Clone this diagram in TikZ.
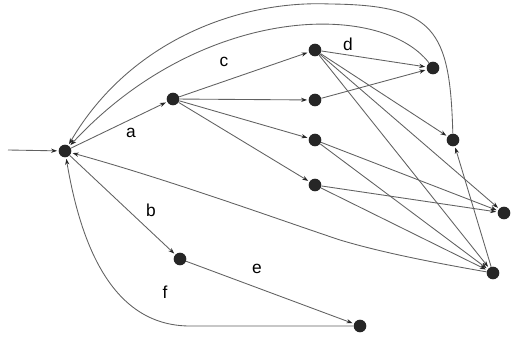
\documentclass[tikz,border=0pt]{standalone}
\usepackage{fontspec}
\setmainfont{Liberation Sans}
\usetikzlibrary{arrows.meta}
\begin{document}
\begin{tikzpicture}[x=0.75pt,y=-0.75pt,
  state/.style={circle,fill=black!85,draw=none,minimum size=9.5pt,inner sep=0pt},
  edge/.style={draw=black!62,line width=0.65pt,-{Stealth[length=4.5pt,width=3.2pt,black!85]},shorten >=1pt},
  lab/.style={font=\fontsize{13}{15}\selectfont,inner sep=0pt}]
\useasboundingbox (0,0) rectangle (514,338);
\node[state] (S) at (65,151) {};
\node[state] (A) at (173,99) {};
\node[state] (B) at (180,259) {};
\node[state] (C1) at (315,50) {};
\node[state] (C2) at (315,100) {};
\node[state] (C3) at (315,140) {};
\node[state] (C4) at (315,185) {};
\node[state] (D) at (433,68) {};
\node[state] (E) at (453,140) {};
\node[state] (F) at (504,213) {};
\node[state] (G) at (493,273) {};
\node[state] (H) at (360,326) {};
\coordinate (in) at (8,150);
\coordinate (ftop) at (190,326);
\coordinate (etop) at (330,4);
\coordinate (gmid) at (340,240);
% labels
\node[lab] (la) at (131,133) {a};
\node[lab] (lb) at (151,210) {b};
\node[lab] (lc) at (224,62) {c};
\node[lab] (ld) at (348,44) {d};
\node[lab] (le) at (257,269) {e};
\node[lab] (lf) at (165,292) {f};
% edges
\draw[edge] (in) -- (S);
\draw[edge] (S) -- (A);
\draw[edge] (S) -- (B);
\draw[edge] (A) -- (C1);
\draw[edge] (A) -- (C2);
\draw[edge] (A) -- (C3);
\draw[edge] (A) -- (C4);
\draw[edge] (C1) -- (D);
\draw[edge] (C2) -- (D);
\draw[edge] (C1) -- (E);
\draw[edge] (C1) -- (F);
\draw[edge] (C1) -- (G);
\draw[edge] (C3) -- (F);
\draw[edge] (C3) -- (G);
\draw[edge] (C4) -- (F);
\draw[edge] (C4) -- (G);
\draw[edge] (G) -- (E);
\draw[edge] (B) -- (H);
\draw[edge] (H) -- (ftop) .. controls (110,326) and (80,240) .. (S);
\draw[edge] (G) .. controls (430,262) and (380,252) .. (gmid) .. controls (280,220) and (170,180) .. (S);
\draw[edge] (D) .. controls (380,0) and (200,5) .. (S);
\draw[edge] (E) .. controls (450,30) and (435,5) .. (etop) .. controls (240,0) and (130,40) .. (S);
\end{tikzpicture}
\end{document}
